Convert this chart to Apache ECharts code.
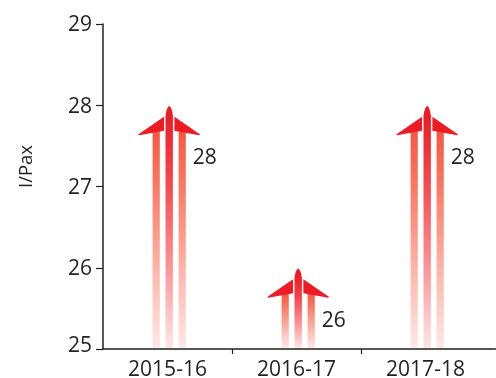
<!DOCTYPE html>
<html><head><meta charset="utf-8">
<style>html,body{margin:0;padding:0;background:#fff}#c{width:496px;height:378px}</style>
<script src="https://cdn.jsdelivr.net/npm/echarts@6/dist/echarts.min.js"></script>
</head><body><div id="c"></div>
<script>
var categories = ['2015-16','2016-17','2017-18'];
var values = [28,26,28];
var yMin = 25, yMax = 29;
var FONT = '"Open Sans"';
var TEXT = '#231f20';
var chart = echarts.init(document.getElementById('c'), null, {renderer:'canvas'});
function grad(stops){
  return {type:'linear',x:0,y:0,x2:0,y2:1,colorStops:stops.map(function(s){return {offset:s[0],color:s[1]};})};
}
var sideStops = [[0,'#f4573f'],[0.23,'#f9745f'],[0.64,'#fcb5a8'],[1,'#fee8e6']];
var midStops = [[0,'#ed1c24'],[0.3,'#f54a50'],[0.68,'#fc9a9e'],[1,'#fee6e6']];
function renderPlane(params, api){
  var p = api.coord([api.value(0), api.value(1)]);
  var base = api.coord([api.value(0), yMin]);
  var band = api.size([1,0])[0];
  var cx = p[0]+1.7, ty = p[1]+0.5, by = base[1]-1;
  var stem = ty+24;
  var kids = [];
  if (api.value(0) > 0) {
    var tx = Math.round(p[0]-band/2)+0.5;
    kids.push({type:'line',shape:{x1:tx,y1:base[1],x2:tx,y2:base[1]+5},style:{stroke:TEXT,lineWidth:1.2}});
  }
  [-13,13].forEach(function(d){
    kids.push({type:'rect',shape:{x:cx+d-3.6,y:stem,width:7.2,height:by-stem},style:{fill:grad(sideStops)}});
  });
  kids.push({type:'rect',shape:{x:cx-3.7,y:ty+10,width:7.4,height:by-ty-10},style:{fill:grad(midStops)}});
  kids.push({type:'path',shape:{pathData:
    'M'+(cx-3.7)+' '+(ty+10.5)+'Q'+(cx-3)+' '+(ty+2)+' '+cx+' '+ty+'Q'+(cx+3)+' '+(ty+2)+' '+(cx+3.7)+' '+(ty+10.5)+'Z',
    x:cx-3.7,y:ty,width:7.4,height:10.5},
    style:{fill:'#ed1c24'}});
  [-1,1].forEach(function(s){
    kids.push({type:'polygon',shape:{points:[
      [cx+s*5.2,ty+11],[cx+s*5.2,ty+25],[cx+s*30,ty+29.5],[cx+s*31,ty+28.8]
    ]},style:{fill:'#ed1c24'}});
  });
  kids.push({type:'text',style:{text:String(api.value(1)),x:cx+35.5,y:ty+52.5,
    align:'center',verticalAlign:'middle',fontFamily:FONT,fontSize:21,fill:TEXT}});
  return {type:'group',children:kids};
}
chart.setOption({
  animation:false,
  backgroundColor:'#fff',
  grid:{left:103,right:6,top:24,bottom:29,outerBoundsMode:'none'},
  xAxis:{type:'category',data:categories,boundaryGap:true,
    axisLine:{show:true,lineStyle:{color:TEXT,width:1.5}},
    axisTick:{show:false},
    axisLabel:{color:TEXT,fontFamily:FONT,fontSize:21,margin:11}},
  yAxis:{type:'value',min:yMin,max:yMax,interval:1,name:'I/Pax',nameLocation:'middle',nameGap:67,
    nameTextStyle:{color:TEXT,fontFamily:FONT,fontSize:18.5,padding:[0,0,0,40]},
    axisLine:{show:true,lineStyle:{color:TEXT,width:1.5}},
    axisTick:{show:true,length:7,lineStyle:{color:TEXT,width:1.2}},
    splitLine:{show:false},
    axisLabel:{color:TEXT,fontFamily:FONT,fontSize:21,margin:11,
      formatter:function(v){return v===yMin?'{low|'+v+'}':'{n|'+v+'}';},
      rich:{low:{fontFamily:FONT,fontSize:21,color:TEXT,padding:[0,0,5,0]},n:{fontFamily:FONT,fontSize:21,color:TEXT,padding:[3,0,0,0]}}}},
  graphic:[{type:'line',silent:true,shape:{x1:490,y1:349,x2:496,y2:349},style:{stroke:TEXT,lineWidth:1.5}}],
  series:[{type:'custom',coordinateSystem:'cartesian2d',renderItem:renderPlane,
    encode:{x:0,y:1},clip:false,
    data:categories.map(function(c,i){return [i,values[i]];})}]
});
</script></body></html>
